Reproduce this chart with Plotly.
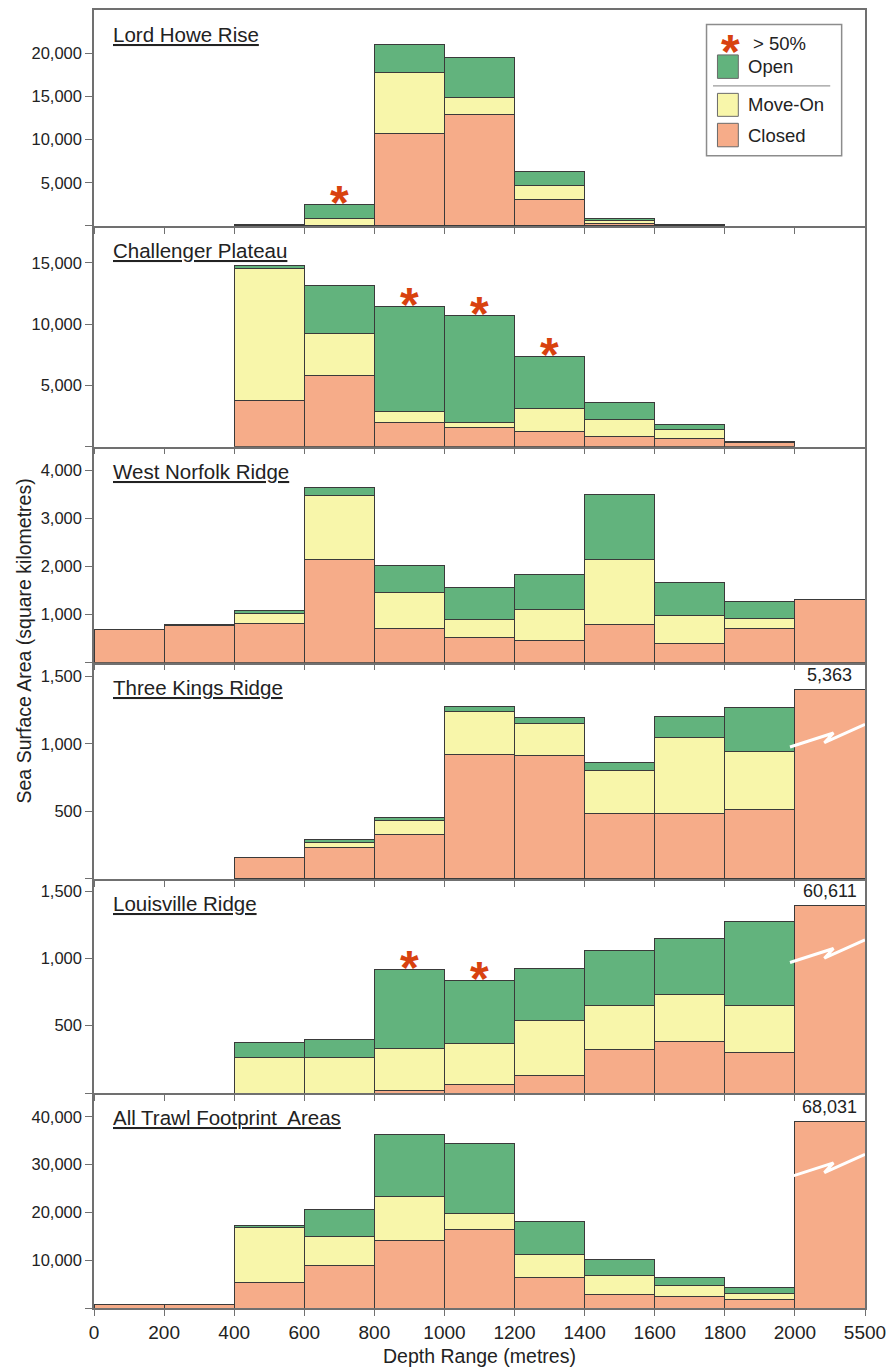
import plotly.graph_objects as go

# ---------------- data ----------------
depth_edges = ["0", "200", "400", "600", "800", "1000", "1200", "1400", "1600", "1800", "2000", "5500"]
depth_bins = ["0-200", "200-400", "400-600", "600-800", "800-1000", "1000-1200",
              "1200-1400", "1400-1600", "1600-1800", "1800-2000", "2000-5500"]

panel_names = ["Lord Howe Rise", "Challenger Plateau", "West Norfolk Ridge",
               "Three Kings Ridge", "Louisville Ridge", "All Trawl Footprint\u00a0 Areas"]

lord_howe_closed = [None, None, 50, 40, 10660, 12860, 3080, 330, 100, None, None]
lord_howe_moveon = [None, None, 30, 850, 7130, 1960, 1620, 250, 40, None, None]
lord_howe_open = [None, None, 40, 1610, 3210, 4700, 1620, 270, 30, None, None]

challenger_closed = [None, None, 3780, 5770, 1990, 1580, 1250, 820, 680, 300, None]
challenger_moveon = [None, None, 10760, 3430, 870, 410, 1900, 1410, 680, 40, None]
challenger_open = [None, None, 250, 3950, 8540, 8680, 4200, 1390, 410, 40, None]

west_norfolk_closed = [690, 770, 824, 2145, 714, 519, 465, 789, 403, 720, 1322]
west_norfolk_moveon = [None, 15, 201, 1341, 753, 388, 635, 1356, 587, 207, None]
west_norfolk_open = [None, 18, 62, 166, 566, 664, 734, 1349, 685, 339, None]

three_kings_closed = [None, None, 156, 230, 329, 920, 913, 482, 487, 516, 5363]
three_kings_moveon = [None, None, None, 39, 106, 319, 239, 324, 559, 426, None]
three_kings_open = [None, None, None, 20, 22, 39, 40, 55, 158, 327, None]

louisville_closed = [None, None, None, None, 20, 62, 129, 321, 380, 303, 60611]
louisville_moveon = [None, None, 262, 262, 311, 308, 407, 330, 350, 348, None]
louisville_open = [None, None, 115, 133, 584, 466, 389, 405, 415, 620, None]

all_closed = [650, 820, 5420, 8880, 14030, 16450, 6380, 2770, 2420, 1880, 68031]
all_moveon = [None, None, 11350, 6030, 9360, 3260, 4790, 3960, 2290, 1250, None]
all_open = [None, None, 420, 5780, 12860, 14660, 6870, 3480, 1670, 1250, None]

closed_series = [lord_howe_closed, challenger_closed, west_norfolk_closed,
                 three_kings_closed, louisville_closed, all_closed]
moveon_series = [lord_howe_moveon, challenger_moveon, west_norfolk_moveon,
                 three_kings_moveon, louisville_moveon, all_moveon]
open_series = [lord_howe_open, challenger_open, west_norfolk_open,
               three_kings_open, louisville_open, all_open]

# bins flagged with a star (> 50% open)
star_bins = [["600-800"], ["800-1000", "1000-1200", "1200-1400"], [], [], ["800-1000", "1000-1200"], []]

# displayed (broken) height of the off-scale last bar, per panel
broken_display = [None, None, None, 1400, 1390, 39000]

y_max = [25000, 18000, 4500, 1600, 1590, 45000]
y_step = [5000, 5000, 1000, 500, 500, 10000]

# ---------------- style / layout ----------------
W, H = 894, 1369
ML, MR, MT, MB = 94, 24, 8, 61
PW, PH = W - ML - MR, H - MT - MB
panel_edges_px = [8, 224.3, 445.3, 661.7, 878.3, 1092.7, 1308]

C_CLOSED = "#F6AC89"
C_MOVE = "#F8F6AA"
C_OPEN = "#62B37D"
C_STAR = "#D8420F"
C_EDGE = "#3a3a3a"
C_AXIS = "#707070"
FONT = "Liberation Sans, Arial, sans-serif"


def pxx(px):
    return (px - ML) / PW


def pxy(py):
    return (MT + PH - py) / PH


centers = [i + 0.5 for i in range(len(depth_bins))]

fig = go.Figure()
layout = dict(
    width=W, height=H, margin=dict(l=ML, r=MR, t=MT, b=MB),
    paper_bgcolor="white", plot_bgcolor="white", barmode="stack",
    showlegend=False, font=dict(family=FONT, color="#222"),
)
annotations = []
shapes = []

for p in range(6):
    k = p + 1
    sfx = "" if k == 1 else str(k)
    xa, ya = "x" + sfx, "y" + sfx
    cap = broken_display[p]
    closed_vals = [None if v is None else (min(v, cap) if cap else v) for v in closed_series[p]]
    for vals, col in [(closed_vals, C_CLOSED), (moveon_series[p], C_MOVE), (open_series[p], C_OPEN)]:
        fig.add_trace(go.Bar(
            x=centers, y=vals, width=1.0, xaxis=xa, yaxis=ya,
            marker=dict(color=col, line=dict(color=C_EDGE, width=1)),
            hoverinfo="skip",
        ))

    top_px, bot_px = panel_edges_px[p], panel_edges_px[p + 1]
    dom = [pxy(bot_px), pxy(top_px)]
    tv = [v for v in range(0, int(y_max[p]) + 1, y_step[p]) if v < y_max[p]]
    tt = ["" if v == 0 else f"{v:,}" for v in tv]
    layout["yaxis" + sfx] = dict(
        domain=dom, anchor=xa, range=[0, y_max[p]], tickvals=tv, ticktext=tt,
        ticks="outside", ticklen=7, tickcolor=C_AXIS, tickwidth=1.2,
        showline=True, linecolor=C_AXIS, linewidth=1.5, mirror=True,
        showgrid=False, zeroline=False, fixedrange=True,
        tickfont=dict(size=16.5, color="#222", family=FONT),
    )
    layout["xaxis" + sfx] = dict(
        domain=[0, 1], anchor=ya, range=[0, len(depth_bins)],
        tickvals=list(range(len(depth_edges))),
        ticktext=depth_edges if k == 6 else [""] * len(depth_edges),
        ticks="outside", ticklen=6, tickcolor=C_AXIS, tickwidth=1.2,
        showline=True, linecolor=C_AXIS, linewidth=1.5, mirror=(k == 1),
        showgrid=False, zeroline=False, fixedrange=True,
        tickfont=dict(size=19, color="#222", family=FONT),
    )

    # panel title
    annotations.append(dict(
        text=f"<u>{panel_names[p]}</u>", xref="paper", yref=f"{ya} domain",
        x=pxx(111), y=1, xanchor="left", yanchor="middle", yshift=-24.5,
        showarrow=False, font=dict(size=20.5, color="#222", family=FONT),
    ))

    # stars
    for b in star_bins[p]:
        i = depth_bins.index(b)
        tot = sum(v or 0 for v in (closed_series[p][i], moveon_series[p][i], open_series[p][i]))
        annotations.append(dict(
            text="<b>*</b>", xref=xa, yref=ya, x=centers[i], y=tot,
            xanchor="center", yanchor="middle", yshift=2, showarrow=False,
            font=dict(size=48, color=C_STAR, family=FONT),
        ))

    # broken bar label + break symbol
    if cap:
        i = len(depth_bins) - 1
        annotations.append(dict(
            text=f"{closed_series[p][i]:,}", xref=xa, yref=ya, x=centers[i], y=cap,
            xanchor="center", yanchor="bottom", yshift=3, showarrow=False,
            font=dict(size=18, color="#222", family=FONT),
        ))
        fig.add_trace(go.Scatter(
            x=[i - 0.07, i + 0.55, i + 0.42, i + 1.0],
            y=[y_max[p] * f for f in (0.61, 0.675, 0.63, 0.715)],
            mode="lines", line=dict(color="white", width=3),
            xaxis=xa, yaxis=ya, hoverinfo="skip",
        ))

# axis titles
annotations.append(dict(
    text="Sea Surface Area (square kilometres)", xref="paper", yref="paper",
    x=pxx(24), y=pxy(640), textangle=-90, showarrow=False,
    xanchor="center", yanchor="middle", font=dict(size=19.5, color="#222", family=FONT),
))
annotations.append(dict(
    text="Depth Range (metres)", xref="paper", yref="paper",
    x=0.5, y=pxy(1356), showarrow=False,
    xanchor="center", yanchor="middle", font=dict(size=19.5, color="#222", family=FONT),
))

# legend (drawn manually to reproduce the separator line)
shapes.append(dict(type="rect", xref="paper", yref="paper",
                   x0=pxx(710.5), x1=pxx(846.5), y0=pxy(154), y1=pxy(22.5),
                   line=dict(color="#8c8c8c", width=1.5), fillcolor="white", layer="above"))
shapes.append(dict(type="line", xref="paper", yref="paper",
                   x0=pxx(717), x1=pxx(835), y0=pxy(84), y1=pxy(84),
                   line=dict(color="#9a9a9a", width=1.2), layer="above"))
legend_items = [("Open", C_OPEN, 53, 76.5), ("Move-On", C_MOVE, 91.5, 114.5), ("Closed", C_CLOSED, 121.5, 145)]
for name, col, t, b in legend_items:
    shapes.append(dict(type="rect", xref="paper", yref="paper",
                       x0=pxx(721.5), x1=pxx(742.5), y0=pxy(b), y1=pxy(t),
                       line=dict(color="#6a6a6a", width=1), fillcolor=col, layer="above"))
    annotations.append(dict(text=name, xref="paper", yref="paper", x=pxx(750), y=pxy((t + b) / 2),
                            xanchor="left", yanchor="middle", showarrow=False,
                            font=dict(size=18.5, color="#222", family=FONT)))
annotations.append(dict(text="<b>*</b>", xref="paper", yref="paper", x=pxx(735), y=pxy(42),
                        xanchor="center", yanchor="middle", yshift=-8, showarrow=False,
                        font=dict(size=48, color=C_STAR, family=FONT)))
annotations.append(dict(text="> 50%", xref="paper", yref="paper", x=pxx(755), y=pxy(42),
                        xanchor="left", yanchor="middle", showarrow=False,
                        font=dict(size=18.5, color="#222", family=FONT)))

layout["annotations"] = annotations
layout["shapes"] = shapes
fig.update_layout(**layout)
fig.write_html("out.html", config={"displayModeBar": False},
               post_script="document.body.style.margin='0';document.body.style.overflow='hidden';")
